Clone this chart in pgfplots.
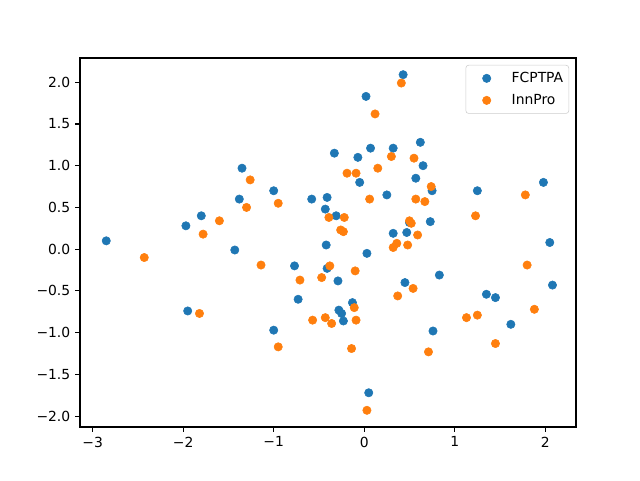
\documentclass[border=0pt]{standalone}
\usepackage{pgfplots}
\pgfplotsset{compat=1.18}
\usepackage{fontspec}
\setmainfont{DejaVu Sans}
\definecolor{c0}{HTML}{1F77B4}
\definecolor{c1}{HTML}{FF7F0E}
\begin{document}
\begin{tikzpicture}
\begin{axis}[
  name=ax,
  scale only axis,
  width=357.12pt, height=265.68pt,
  xmin=-3.14, xmax=2.34, ymin=-2.13, ymax=2.29,
  xtick={-3,-2,-1,0,1,2},
  xticklabels={−3,−2,−1,0,1,2},
  ytick={-2,-1.5,-1,-0.5,0,0.5,1,1.5,2},
  yticklabels={−2.0,−1.5,−1.0,−0.5,0.0,0.5,1.0,1.5,2.0},
  tick align=outside, major tick length=3.5pt,
  tick style={black, line width=0.8pt},
  xtick pos=bottom, ytick pos=left,
  axis line style={line width=0.8pt},
  ticklabel style={font=\fontsize{10}{12}\selectfont},
  legend style={at={(1,1)}, anchor=north east, xshift=-5pt, yshift=-5pt,
    draw=black!20, rounded corners=2pt, font=\fontsize{10}{12}\selectfont,
    inner xsep=2pt, inner ysep=3pt, row sep=3pt},
  legend cell align=left,
  legend image code/.code={\path[draw=none,fill=none] (0pt,0pt) -- (29pt,0pt); \draw[#1] plot coordinates {(13pt,0pt)};},
]
\addplot[only marks, mark=*, mark size=3pt, color=c0, mark options={draw=c0, fill=c0}] coordinates {
(-2.85,0.1) (-1.97,0.28) (-1.95,-0.74) (-1.8,0.4) (-1.43,-0.01) (-1.38,0.6)
(-1.35,0.97) (-1.0,0.7) (-1.0,-0.97) (-0.77,-0.2) (-0.73,-0.6) (-0.58,0.6)
(-0.43,0.48) (-0.42,0.05) (-0.41,0.62) (-0.41,-0.23) (-0.33,1.15) (-0.31,0.4)
(-0.29,-0.38) (-0.28,-0.73) (-0.25,-0.77) (-0.23,-0.86) (-0.13,-0.64) (-0.07,1.1)
(-0.05,0.8) (0.02,1.83) (0.03,-0.05) (0.05,-1.72) (0.07,1.21) (0.25,0.65)
(0.32,1.21) (0.32,0.19) (0.43,2.09) (0.45,-0.4) (0.47,0.2) (0.5,0.32)
(0.57,0.85) (0.62,1.28) (0.65,1.0) (0.73,0.33) (0.75,0.7) (0.76,-0.98)
(0.83,-0.31) (1.25,0.7) (1.35,-0.54) (1.45,-0.58) (1.62,-0.9) (1.98,0.8)
(2.05,0.08) (2.08,-0.43)
};
\addlegendentry{FCPTPA}
\addplot[only marks, mark=*, mark size=3pt, color=c1, mark options={draw=c1, fill=c1}] coordinates {
(-2.43,-0.1) (-1.82,-0.77) (-1.78,0.18) (-1.6,0.34) (-1.3,0.5) (-1.26,0.83)
(-1.14,-0.19) (-0.95,0.55) (-0.95,-1.17) (-0.71,-0.37) (-0.57,-0.85) (-0.47,-0.34)
(-0.43,-0.82) (-0.39,0.38) (-0.38,-0.2) (-0.36,-0.89) (-0.26,0.23) (-0.23,0.21)
(-0.22,0.38) (-0.19,0.91) (-0.14,-1.19) (-0.11,-0.7) (-0.1,-0.26) (-0.09,0.91)
(-0.09,-0.85) (0.03,-1.93) (0.06,0.6) (0.12,1.62) (0.15,0.97) (0.3,1.11)
(0.32,0.02) (0.36,0.07) (0.37,-0.56) (0.41,1.99) (0.48,0.05) (0.5,0.34)
(0.52,0.31) (0.54,-0.47) (0.55,1.09) (0.57,0.6) (0.59,0.17) (0.67,0.57)
(0.71,-1.23) (0.74,0.75) (1.13,-0.82) (1.23,0.4) (1.25,-0.79) (1.45,-1.13)
(1.78,0.65) (1.8,-0.19) (1.88,-0.72)
};
\addlegendentry{InnPro}
\end{axis}
\path[use as bounding box] ([shift={(-57.6pt,-38.16pt)}]ax.south west) rectangle ([shift={(46.08pt,41.76pt)}]ax.north east);
\end{tikzpicture}
\end{document}
